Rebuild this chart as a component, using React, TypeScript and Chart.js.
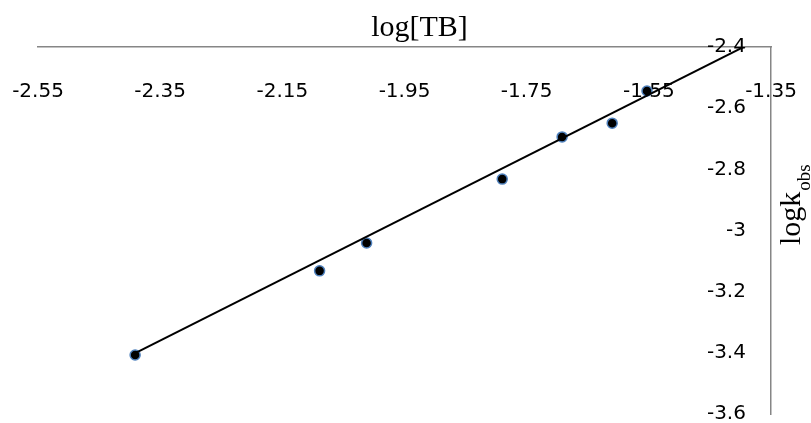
import React, { useEffect, useRef } from 'react';
import { Chart, registerables } from 'chart.js';

Chart.register(...registerables);

// Data
const logTB = [-2.391, -2.089, -2.012, -1.79, -1.692, -1.61, -1.553];
const logKobs = [-3.407, -3.132, -3.041, -2.832, -2.694, -2.649, -2.544];
// Linear trendline endpoints
const trendX = [-2.39, -1.385];
const trendY = [-3.4, -2.39];
// Axis ticks
const xTicks = [-2.55, -2.35, -2.15, -1.95, -1.75, -1.55, -1.35];
const yTicks = [-3.6, -3.4, -3.2, -3, -2.8, -2.6, -2.4];
const xTitle = 'log[TB]';
const yTitleMain = 'logk';
const yTitleSub = 'obs';

const axisTitles = {
  id: 'axisTitles',
  afterDraw(chart: any) {
    const { ctx, chartArea } = chart;
    ctx.save();
    ctx.fillStyle = '#000';
    ctx.textBaseline = 'alphabetic';
    // top (x) title
    ctx.font = '30px "Liberation Serif"';
    ctx.textAlign = 'center';
    ctx.fillText(xTitle, (chartArea.left + chartArea.right) / 2 + 15, chartArea.top - 11);
    // right (y) title, rotated, with subscript
    ctx.translate(chartArea.right + 29, 245);
    ctx.rotate(-Math.PI / 2);
    ctx.textAlign = 'left';
    ctx.fillText(yTitleMain, 0, 0);
    const w = ctx.measureText(yTitleMain).width;
    ctx.font = '19px "Liberation Serif"';
    ctx.fillText(yTitleSub, w + 1, 10);
    ctx.restore();
  },
};

const tickFont = { family: '"DejaVu Sans"', size: 20, lineHeight: 0.9 };
const hiddenGrid = { display: true, color: 'rgba(0,0,0,0)', drawTicks: false };

export default function App() {
  const ref = useRef<HTMLCanvasElement | null>(null);

  useEffect(() => {
    document.body.style.margin = '0';
    const canvas = ref.current;
    if (!canvas) return;
    const chart = new Chart(canvas, {
      type: 'scatter',
      data: {
        datasets: [
          {
            type: 'line',
            label: 'trend',
            data: trendX.map((x, i) => ({ x, y: trendY[i] })),
            borderColor: '#000',
            borderWidth: 2,
            pointRadius: 0,
            fill: false,
            order: 0,
          } as any,
          {
            type: 'scatter',
            label: 'data',
            data: logTB.map((x, i) => ({ x, y: logKobs[i] })),
            backgroundColor: '#000',
            borderColor: '#4F81BD',
            borderWidth: 1.5,
            pointRadius: 5,
            order: 1,
          },
        ],
      },
      options: {
        responsive: false,
        animation: false,
        layout: { padding: { left: 38, top: 47, right: 40, bottom: 9 } },
        plugins: {
          legend: { display: false },
          tooltip: { enabled: false },
          title: { display: false },
        },
        scales: {
          x: {
            type: 'linear',
            position: { y: -2.4 } as any,
            min: -2.55,
            max: -1.35,
            afterBuildTicks: (s: any) => {
              s.ticks = xTicks.map((v) => ({ value: v }));
            },
            ticks: {
              padding: 0,
              font: tickFont,
              color: '#000',
              autoSkip: false,
              maxRotation: 0,
              callback: (v: any) => String(v),
            },
            grid: { display: true, color: 'rgba(0,0,0,0)', drawTicks: true, tickLength: 36 },
            border: { display: true, color: '#868686', width: 1.5 },
          },
          y: {
            type: 'linear',
            position: { x: -1.35 } as any,
            min: -3.6,
            max: -2.4,
            afterBuildTicks: (s: any) => {
              s.ticks = yTicks.map((v) => ({ value: v }));
            },
            ticks: { display: false },
            grid: hiddenGrid,
            border: { display: true, color: '#868686', width: 1.5 },
          },
          yLabels: {
            type: 'linear',
            axis: 'y',
            position: { x: -1.391 } as any,
            min: -3.6,
            max: -2.4,
            afterBuildTicks: (s: any) => {
              s.ticks = yTicks.map((v) => ({ value: v }));
            },
            ticks: {
              padding: 0,
              font: tickFont,
              color: '#000',
              autoSkip: false,
              callback: (v: any) => String(v),
            },
            grid: hiddenGrid,
            border: { display: false },
          } as any,
        },
      },
      plugins: [axisTitles],
    });
    return () => chart.destroy();
  }, []);

  return (
    <div style={{ width: 811, height: 423 }}>
      <canvas ref={ref} width={811} height={423} style={{ display: 'block' }} />
    </div>
  );
}
